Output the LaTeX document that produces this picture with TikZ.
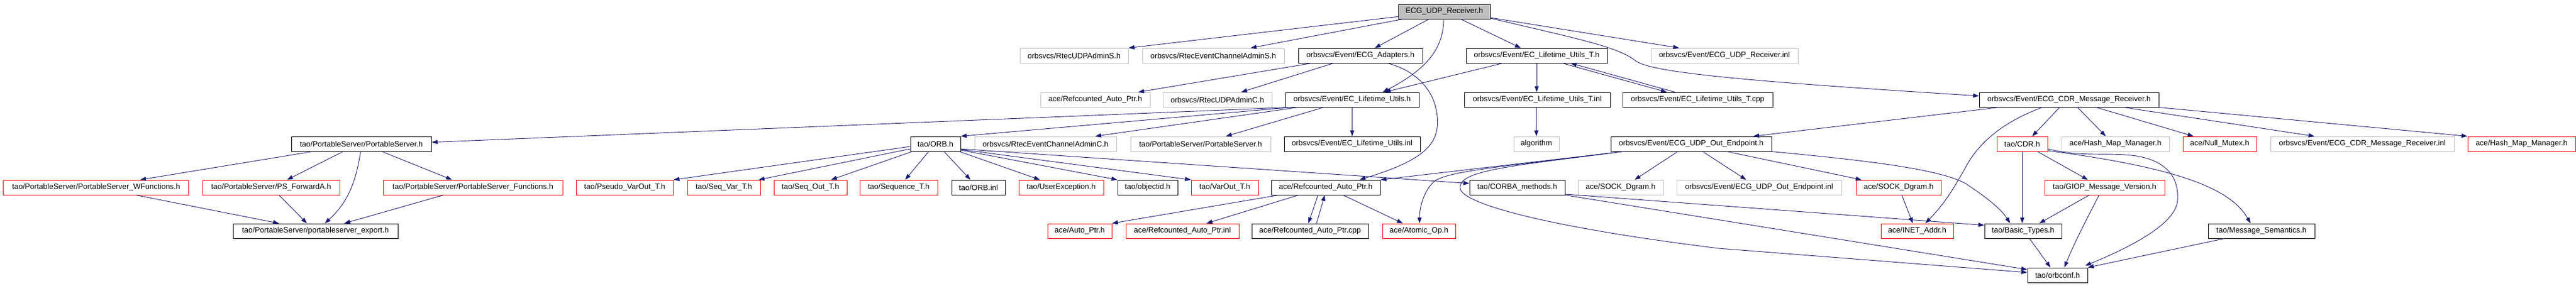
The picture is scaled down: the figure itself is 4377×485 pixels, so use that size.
\documentclass[tikz,border=0pt]{standalone}
\usepackage{fontspec}
\setmainfont{Liberation Sans}
\usetikzlibrary{arrows.meta}
\definecolor{edgec}{RGB}{25,25,112}
\definecolor{grayb}{RGB}{191,191,191}
\begin{document}
\begin{tikzpicture}[x=1pt,y=-1pt,
 box/.style={draw=black, line width=1pt, minimum height=25pt, inner sep=0pt, font=\fontsize{13}{15}\selectfont},
 redbox/.style={box, draw=red},
 graybox/.style={box, draw=grayb},
 rootbox/.style={box, fill=grayb},
 dep/.style={draw=edgec, line width=0.9pt, -{Triangle[length=10pt,width=7pt]}}]
\useasboundingbox (0,0) rectangle (4377,485);
% row 0
\node[rootbox, minimum width=156pt] (root) at (2454,19.5) {ECG\_UDP\_Receiver.h};
% row 1
\node[graybox, minimum width=184pt] (udpS) at (1825,94.5) {orbsvcs/RtecUDPAdminS.h};
\node[graybox, minimum width=241pt] (ecaS) at (2061.5,94.5) {orbsvcs/RtecEventChannelAdminS.h};
\node[box, minimum width=211pt] (adapt) at (2311.5,94.5) {orbsvcs/Event/ECG\_Adapters.h};
\node[box, minimum width=240pt] (ltT) at (2611,94.5) {orbsvcs/Event/EC\_Lifetime\_Utils\_T.h};
\node[graybox, minimum width=250pt] (rinl) at (2930,94.5) {orbsvcs/Event/ECG\_UDP\_Receiver.inl};
% row 2
\node[graybox, minimum width=186pt] (refG) at (1861,169.5) {ace/Refcounted\_Auto\_Ptr.h};
\node[graybox, minimum width=185pt] (udpC) at (2068.5,169.5) {orbsvcs/RtecUDPAdminC.h};
\node[box, minimum width=227pt] (lt) at (2297.5,169.5) {orbsvcs/Event/EC\_Lifetime\_Utils.h};
\node[box, minimum width=248pt] (ltTinl) at (2612,169.5) {orbsvcs/Event/EC\_Lifetime\_Utils\_T.inl};
\node[box, minimum width=255pt] (ltTcpp) at (2884.5,169.5) {orbsvcs/Event/EC\_Lifetime\_Utils\_T.cpp};
\node[box, minimum width=305pt] (cdrR) at (3515.5,169.5) {orbsvcs/Event/ECG\_CDR\_Message\_Receiver.h};
% row 3
\node[box, minimum width=238pt] (ps) at (614,244.5) {tao/PortableServer/PortableServer.h};
\node[box, minimum width=85pt] (orb) at (1589.5,244.5) {tao/ORB.h};
\node[graybox, minimum width=241pt] (ecaC) at (1776.5,244.5) {orbsvcs/RtecEventChannelAdminC.h};
\node[graybox, minimum width=238pt] (psG) at (2040,244.5) {tao/PortableServer/PortableServer.h};
\node[box, minimum width=231pt] (ltinl) at (2297.5,244.5) {orbsvcs/Event/EC\_Lifetime\_Utils.inl};
\node[graybox, minimum width=77pt] (alg) at (2610.5,244.5) {algorithm};
\node[box, minimum width=273pt] (out) at (2873.5,244.5) {orbsvcs/Event/ECG\_UDP\_Out\_Endpoint.h};
\node[redbox, minimum width=86pt] (cdr) at (3436,244.5) {tao/CDR.h};
\node[graybox, minimum width=183pt] (hmG) at (3594.5,244.5) {ace/Hash\_Map\_Manager.h};
\node[redbox, minimum width=125pt] (nm) at (3771.5,244.5) {ace/Null\_Mutex.h};
\node[graybox, minimum width=312pt] (cdrinl) at (4014,244.5) {orbsvcs/Event/ECG\_CDR\_Message\_Receiver.inl};
\node[redbox, minimum width=183pt] (hm) at (4284.5,244.5) {ace/Hash\_Map\_Manager.h};
% row 4
\node[redbox, minimum width=315pt] (wf) at (163.4,318.5) {tao/PortableServer/PortableServer\_WFunctions.h};
\node[redbox, minimum width=232.5pt] (psfa) at (460.75,318.5) {tao/PortableServer/PS\_ForwardA.h};
\node[redbox, minimum width=305pt] (psf) at (803.5,318.5) {tao/PortableServer/PortableServer\_Functions.h};
\node[redbox, minimum width=165pt] (pvo) at (1061.5,318.5) {tao/Pseudo\_VarOut\_T.h};
\node[redbox, minimum width=124pt] (sv) at (1230,318.5) {tao/Seq\_Var\_T.h};
\node[redbox, minimum width=124pt] (so) at (1377,318.5) {tao/Seq\_Out\_T.h};
\node[redbox, minimum width=132pt] (seq) at (1527,318.5) {tao/Sequence\_T.h};
\node[box, minimum width=91pt] (orbinl) at (1662.5,318.5) {tao/ORB.inl};
\node[redbox, minimum width=144pt] (ue) at (1803,318.5) {tao/UserException.h};
\node[box, minimum width=102pt] (oid) at (1950,318.5) {tao/objectid.h};
\node[redbox, minimum width=114pt] (vo) at (2081,318.5) {tao/VarOut\_T.h};
\node[box, minimum width=185pt] (ref) at (2252.5,318.5) {ace/Refcounted\_Auto\_Ptr.h};
\node[box, minimum width=162pt] (cm) at (2578,318.5) {tao/CORBA\_methods.h};
\node[graybox, minimum width=145pt] (sdG) at (2753.5,318.5) {ace/SOCK\_Dgram.h};
\node[graybox, minimum width=280pt] (outinl) at (2989,318.5) {orbsvcs/Event/ECG\_UDP\_Out\_Endpoint.inl};
\node[redbox, minimum width=144pt] (sd) at (3226,318.5) {ace/SOCK\_Dgram.h};
\node[redbox, minimum width=204pt] (giop) at (3576,318.5) {tao/GIOP\_Message\_Version.h};
% row 5
\node[box, minimum width=280pt] (pse) at (536,392.5) {tao/PortableServer/portableserver\_export.h};
\node[redbox, minimum width=109pt] (ap) at (1834.5,392.5) {ace/Auto\_Ptr.h};
\node[redbox, minimum width=192pt] (refinl) at (2009,392.5) {ace/Refcounted\_Auto\_Ptr.inl};
\node[box, minimum width=198pt] (refcpp) at (2226,392.5) {ace/Refcounted\_Auto\_Ptr.cpp};
\node[redbox, minimum width=124pt] (atom) at (2411,392.5) {ace/Atomic\_Op.h};
\node[redbox, minimum width=123pt] (inet) at (3257.5,392.5) {ace/INET\_Addr.h};
\node[box, minimum width=131pt] (bt) at (3437.5,392.5) {tao/Basic\_Types.h};
\node[box, minimum width=181pt] (ms) at (3842.5,392.5) {tao/Message\_Semantics.h};
% row 6
\node[box, minimum width=102pt] (oc) at (3496,467.5) {tao/orbconf.h};

% edges from root
\draw[dep] ([yshift=-8.8pt]root.west) -- (udpS.north east);
\draw[dep] ([xshift=-70.5pt]root.south) -- ([xshift=63.5pt]ecaS.north);
\draw[dep] ([xshift=-26pt]root.south) -- ([xshift=24.5pt]adapt.north);
\draw[dep] ([xshift=-1pt]root.south) .. controls (2453,85) and (2420,120) .. ([xshift=52pt]lt.north);
\draw[dep] ([xshift=28pt]root.south) -- ([xshift=-27pt]ltT.north);
\draw[dep] ([yshift=-10.5pt]root.east) -- ([xshift=-77pt]rinl.north);
\draw[dep] ([yshift=-11.5pt]root.east) .. controls (2690,68) and (2750,80) .. (2780,104) .. controls (2810,125) and (3000,140) .. ([yshift=6.5pt]cdrR.west);
% ECG_Adapters
\draw[dep] ([xshift=-83.5pt]adapt.south) -- ([xshift=73pt]refG.north);
\draw[dep] ([xshift=-46pt]adapt.south) -- ([xshift=40.5pt]udpC.north);
\draw[dep] ([xshift=46pt]adapt.south) .. controls (2400,118) and (2442,150) .. (2442.5,207) .. controls (2443,250) and (2410,275) .. ([xshift=57.5pt]ref.north);
% EC_Lifetime_Utils_T.h
\draw[dep] ([xshift=-58pt]ltT.south) -- ([xshift=55.5pt]lt.north);
\draw[dep] (ltT.south) -- (ltT.south |- ltTinl.north);
\draw[dep] ([xshift=44pt]ltT.south) -- ([xshift=-52.5pt]ltTcpp.north);
\draw[dep] ([xshift=-38.5pt]ltTcpp.north) -- ([xshift=58pt]ltT.south);
\draw[dep] (alg.north |- ltTinl.south) -- (alg.north);
% EC_Lifetime_Utils.h
\draw[dep] (lt) -- (ltinl);
\draw[dep] ([xshift=-107.5pt]lt.south) -- ([yshift=2.8pt]ps.east);
\draw[dep] ([xshift=-105.5pt]lt.south) -- (orb.north east);
\draw[dep] ([xshift=-92.5pt]lt.south) -- ([xshift=84.5pt]ecaC.north);
\draw[dep] ([xshift=-48.5pt]lt.south) -- ([xshift=43pt]psG.north);
% ORB.h
\draw[dep] ([yshift=-4.5pt]orb.west) -- (pvo.north east);
\draw[dep] ([yshift=-8.5pt]orb.west) -- ([xshift=59pt]sv.north);
\draw[dep] ([xshift=-39.5pt]orb.south) -- ([xshift=35pt]so.north);
\draw[dep] ([xshift=-11.5pt]orb.south) -- ([xshift=11pt]seq.north);
\draw[dep] ([xshift=14.5pt]orb.south) -- ([xshift=-13.5pt]orbinl.north);
\draw[dep] ([xshift=40.5pt]orb.south) -- ([xshift=-36pt]ue.north);
\draw[dep] ([yshift=-10.5pt]orb.east) -- (oid.north west);
\draw[dep] ([yshift=-9.5pt]orb.east) -- (vo.north west);
\draw[dep] ([yshift=-8.5pt]orb.east) -- ([yshift=6.8pt]cm.west);
% PortableServer.h
\draw[dep] ([xshift=-83pt]ps.south) -- ([xshift=74.6pt]wf.north);
\draw[dep] ([xshift=-31pt]ps.south) -- ([xshift=27pt]psfa.north);
\draw[dep] ([xshift=-1.4pt]ps.south) .. controls (605,310) and (590,345) .. ([xshift=16pt]pse.north);
\draw[dep] ([xshift=35pt]ps.south) -- ([xshift=-35.5pt]psf.north);
\draw[dep] ([xshift=67.6pt]wf.south) -- ([xshift=-62pt]pse.north);
\draw[dep] ([xshift=13.25pt]psfa.south) -- ([xshift=-14.5pt]pse.north);
\draw[dep] ([xshift=-50pt]psf.south) -- ([xshift=49pt]pse.north);
% Refcounted_Auto_Ptr.h
\draw[dep] ([xshift=-80pt]ref.south) -- ([xshift=55pt]ap.north);
\draw[dep] ([xshift=-46pt]ref.south) -- ([xshift=41pt]refinl.north);
\draw[dep] ([xshift=-13pt]ref.south) -- ([xshift=-3pt]refcpp.north);
\draw[dep] ([xshift=11pt]refcpp.north) -- ([xshift=-1.5pt]ref.south);
\draw[dep] ([xshift=29.5pt]ref.south) -- ([xshift=-27.5pt]atom.north);
% ECG_UDP_Out_Endpoint.h
\draw[dep] ([xshift=-115pt]out.south) -- (ref.north east);
\draw[dep] ([xshift=-116.5pt]out.south) .. controls (2560,283) and (2455,290) .. (2435,310) .. controls (2420,325) and (2412,350) .. ([xshift=1pt]atom.north);
\draw[dep] ([xshift=-116.5pt]out.south) .. controls (2560,283) and (2478,290) .. (2481,320) .. controls (2484,345) and (2620,385) .. (2920,422) -- ([yshift=4.5pt]oc.west);
\draw[dep] ([xshift=-22.8pt]out.south) -- ([xshift=24pt]sdG.north);
\draw[dep] ([xshift=19.5pt]out.south) -- ([xshift=-22pt]outinl.north);
\draw[dep] ([xshift=60.5pt]out.south) -- ([xshift=-63pt]sd.north);
\draw[dep] ([xshift=-1pt]out.south east) .. controls (3200,275) and (3300,290) .. (3340,312) .. controls (3375,335) and (3400,355) .. ([xshift=-22pt]bt.north);
% CORBA_methods.h
\draw[dep] ([yshift=-11.5pt]cm.east) -- ([yshift=9.8pt]bt.west);
\draw[dep] (cm.south east) -- ([yshift=9.5pt]oc.west);
% ECG_CDR_Message_Receiver.h
\draw[dep] ([xshift=-119pt]cdrR.south) -- ([xshift=105.5pt]out.north);
\draw[dep] ([xshift=-45.7pt]cdrR.south) .. controls (3410,205) and (3370,235) .. (3345,275) .. controls (3320,320) and (3305,345) .. ([xshift=14pt]inet.north);
\draw[dep] ([xshift=-16pt]cdrR.south) -- ([xshift=17pt]cdr.north);
\draw[dep] ([xshift=14.5pt]cdrR.south) -- ([xshift=-16.5pt]hmG.north);
\draw[dep] ([xshift=46.5pt]cdrR.south) -- ([xshift=-44.5pt]nm.north);
\draw[dep] ([xshift=93.5pt]cdrR.south) -- ([xshift=-81.4pt]cdrinl.north);
\draw[dep] (cdrR.south east) -- (hm.north west);
% SOCK_Dgram.h
\draw[dep] ([xshift=5.5pt]sd.south) -- ([xshift=-7.5pt]inet.north);
% CDR.h
\draw[dep] (cdr.south) -- (cdr.south |- bt.north);
\draw[dep] ([xshift=25.8pt]cdr.south) -- ([xshift=-28.4pt]giop.north);
\draw[dep] ([yshift=-11.5pt]cdr.east) .. controls (3700,285) and (3790,320) .. ([xshift=-18.5pt]ms.north);
\draw[dep] ([yshift=-8.5pt]cdr.east) .. controls (3540,268) and (3580,258) .. (3630,265) .. controls (3690,275) and (3702,310) .. (3700,340) .. controls (3698,380) and (3620,420) .. ([xshift=47pt,yshift=3pt]oc.north);
% GIOP, Basic_Types, Message_Semantics
\draw[dep] ([xshift=-26pt]giop.south) -- ([xshift=27.5pt]bt.north);
\draw[dep] ([xshift=-9.5pt]giop.south) .. controls (3555,355) and (3530,400) .. ([xshift=11.5pt]oc.north);
\draw[dep] ([xshift=11pt]bt.south) -- ([xshift=-12pt]oc.north);
\draw[dep] ([xshift=-63.5pt]ms.south) -- (oc.north east);
\end{tikzpicture}
\end{document}
